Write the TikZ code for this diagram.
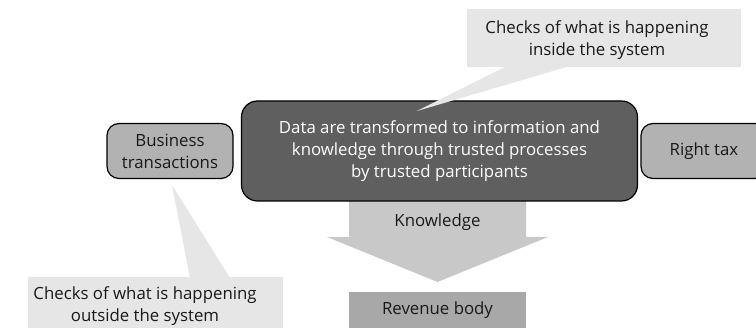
\documentclass[tikz,border=0pt]{standalone}
\usepackage{fontspec}
\setmainfont{Open Sans}
\definecolor{boxdark}{HTML}{5F5F5F}
\definecolor{sidegray}{HTML}{B2B2B2}
\definecolor{callgray}{HTML}{E6E6E6}
\definecolor{arrowgray}{HTML}{C8C8C8}
\definecolor{revgray}{HTML}{A8A8A8}

\begin{document}
\begin{tikzpicture}[x=1pt,y=-1pt,
	every node/.style={font=\fontsize{16.8}{22}\selectfont, align=center, text=black!90},
	roundbox/.style={draw=black, line width=1.2pt, rounded corners=12pt, inner sep=0pt}]
	\useasboundingbox (0,0) rectangle (756,328);

	% knowledge arrow, under the process box
	\fill[arrowgray] (349,195)--(526,195)--(526,237)--(548,237)--(437.5,282)--(327,237)--(349,237)--cycle;
	\node (knowledge) at (437.5,222) {Knowledge};

	\node[roundbox, fill=boxdark, text=white, rounded corners=16pt, minimum width=396pt, minimum height=100pt] (process) at (439.5,151)
		{Data are transformed to information and\\knowledge through trusted processes\\by trusted participants};
	\node[roundbox, fill=sidegray, minimum width=126pt, minimum height=55pt] (business) at (170,151) {Business\\transactions};
	\node[roundbox, fill=sidegray, minimum width=126pt, minimum height=55pt] (righttax) at (704,151) {Right tax};

	% callouts
	\fill[callgray] (467,9) rectangle (741,67);
	\coordinate (insidetip) at (417,111);
	\fill[callgray] (507,66)--(insidetip)--(570,66)--cycle;
	\node (insidecheck) at (597,40.5) {Checks of what is happening\\inside the system};

	\fill[callgray] (28,277) rectangle (283,328);
	\coordinate (outsidetip) at (172,185);
	\fill[callgray] (190,278)--(outsidetip)--(230,278)--cycle;
	\node (outsidecheck) at (145,306.5) {Checks of what is happening\\outside the system};

	\node[fill=revgray, minimum width=177pt, minimum height=36pt, inner sep=0pt] (revenue) at (437.5,310) {Revenue body};
\end{tikzpicture}
\end{document}
